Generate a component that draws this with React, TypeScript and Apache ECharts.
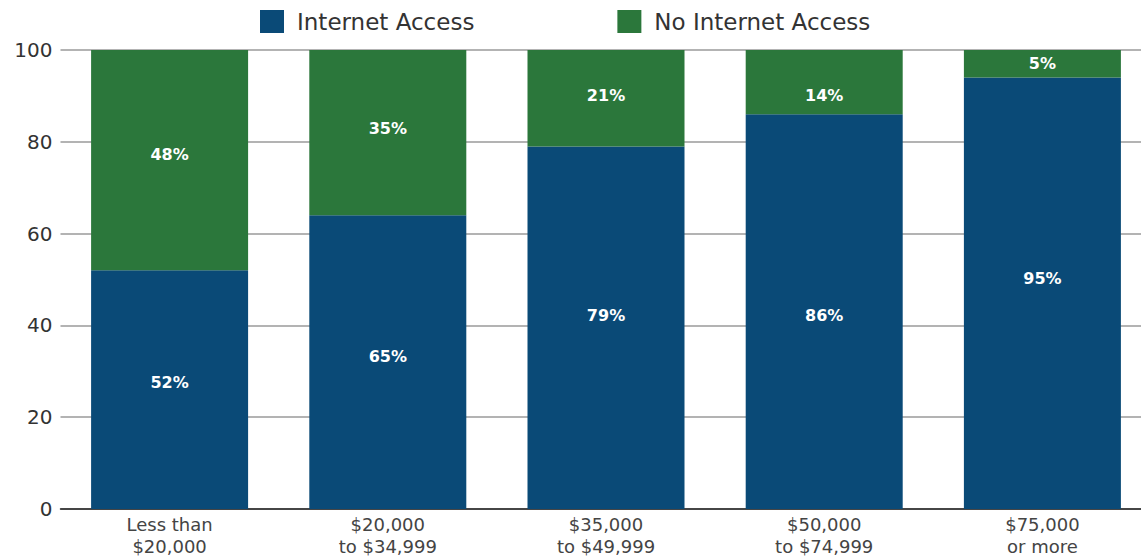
import React, { useEffect, useRef } from "react";
import * as echarts from "echarts";

const categories = ["Less than\n$20,000", "$20,000\nto $34,999", "$35,000\nto $49,999", "$50,000\nto $74,999", "$75,000\nor more"];
const internetAccess = [52, 64, 79, 86, 94];
const noInternetAccess = [48, 36, 21, 14, 6];
const internetLabels = ["52%", "65%", "79%", "86%", "95%"];
const noInternetLabels = ["48%", "35%", "21%", "14%", "5%"];
const yTicks = [0, 20, 40, 60, 80, 100];

// vertical label nudges (style only, in px)
const internetLabelNudge = [-7, -6, -12, 4, -15];
const noInternetLabelNudge = [-6, -4, -3, 13, 0];

const FONT = "DejaVu Sans";

function withLabels(values: number[], labels: string[], nudges: number[]) {
  return values.map((v, i) => ({
    value: v,
    label: { formatter: labels[i], offset: [0, nudges[i]] },
  }));
}

export default function App() {
  const ref = useRef<HTMLDivElement>(null);
  useEffect(() => {
    if (!ref.current) return;
    const chart = echarts.init(ref.current, undefined, { renderer: "svg" });
    const barLabel = {
      show: true,
      position: "inside",
      color: "#fff",
      fontWeight: "bold",
      fontSize: 16,
      fontFamily: FONT,
    };
    chart.setOption({
      animation: false,
      textStyle: { fontFamily: FONT },
      legend: {
        left: 255,
        top: 5,
        itemWidth: 24,
        itemHeight: 23,
        itemGap: 143,
        icon: "rect",
        textStyle: { fontSize: 23, color: "#333", fontFamily: FONT, padding: [0, 0, 0, 8] },
        data: ["Internet Access", "No Internet Access"],
      },
      grid: { left: 60.5, right: 8.5, top: 50, bottom: 49, containLabel: false },
      xAxis: {
        type: "category",
        data: categories,
        axisLine: { show: true, lineStyle: { color: "#222", width: 1.5 } },
        axisTick: { show: false },
        axisLabel: { fontSize: 18, color: "#444", lineHeight: 22, margin: 4, fontFamily: FONT },
      },
      yAxis: {
        type: "value",
        min: yTicks[0],
        max: yTicks[yTicks.length - 1],
        interval: 20,
        axisLine: { show: false },
        axisTick: { show: false },
        axisLabel: { fontSize: 20, color: "#333", margin: 8, fontFamily: FONT },
        splitLine: { show: true, lineStyle: { color: "#9a9a9a", width: 1.5 } },
      },
      series: [
        {
          name: "Internet Access",
          type: "bar",
          stack: "total",
          barWidth: 157,
          data: withLabels(internetAccess, internetLabels, internetLabelNudge),
          itemStyle: { color: "#0a4a77" },
          label: barLabel,
        },
        {
          name: "No Internet Access",
          type: "bar",
          stack: "total",
          barWidth: 157,
          data: withLabels(noInternetAccess, noInternetLabels, noInternetLabelNudge),
          itemStyle: { color: "#2b773b" },
          label: barLabel,
        },
      ],
    });
    return () => chart.dispose();
  }, []);
  return (
    <div style={{ position: "fixed", left: 0, top: 0, width: 1141, height: 558, overflow: "hidden", background: "#fff" }}>
      <div ref={ref} style={{ width: 1160, height: 558 }} />
    </div>
  );
}
